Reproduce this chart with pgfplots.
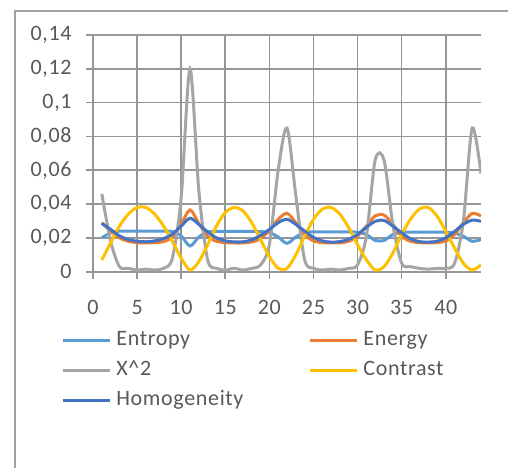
\documentclass[border=0pt]{standalone}
\usepackage{fontspec}
\setmainfont{Carlito}[LetterSpace=3]
\usepackage{pgfplots}
\usepackage{pgfplotstable}
\pgfplotsset{compat=1.18}
\definecolor{gridc}{HTML}{969696}
\definecolor{framec}{HTML}{A0A0A0}
\definecolor{lblc}{HTML}{595959}
\definecolor{cEnt}{HTML}{5B9BD5}
\definecolor{cEng}{HTML}{ED7D31}
\definecolor{cX}{HTML}{A5A5A5}
\definecolor{cCon}{HTML}{FFC000}
\definecolor{cHom}{HTML}{4472C4}
\pgfplotstableread{
x ent eng xx con hom
1 0.0200 0.0290 0.046 0.007 0.0285
2 0.0230 0.0240 0.018 0.017 0.0250
3 0.0240 0.0200 0.003 0.027 0.0212
4 0.0240 0.0180 0.002 0.034 0.0190
5 0.0240 0.0172 0.001 0.038 0.0180
6 0.0240 0.0170 0.0015 0.038 0.0177
7 0.0240 0.0172 0.001 0.034 0.0182
8 0.0240 0.0178 0.002 0.027 0.0196
9 0.0238 0.0205 0.008 0.018 0.0222
10 0.0212 0.0280 0.044 0.008 0.0270
11 0.0152 0.0365 0.120 0.001 0.0316
12 0.0205 0.0285 0.048 0.006 0.0280
13 0.0235 0.0210 0.007 0.016 0.0235
14 0.0238 0.0180 0.002 0.027 0.0200
15 0.0238 0.0172 0.001 0.035 0.0182
16 0.0238 0.0170 0.002 0.038 0.0176
17 0.0238 0.0170 0.001 0.036 0.0177
18 0.0238 0.0176 0.002 0.029 0.0188
19 0.0237 0.0195 0.004 0.019 0.0215
20 0.0232 0.0245 0.016 0.009 0.0250
21 0.0205 0.0310 0.060 0.002 0.0290
22 0.0168 0.0345 0.085 0.002 0.0310
23 0.0205 0.0290 0.045 0.010 0.0280
24 0.0233 0.0220 0.007 0.021 0.0240
25 0.0236 0.0182 0.002 0.031 0.0203
26 0.0236 0.0172 0.001 0.037 0.0182
27 0.0236 0.0170 0.0015 0.038 0.0175
28 0.0236 0.0171 0.001 0.034 0.0178
29 0.0236 0.0180 0.002 0.026 0.0192
30 0.0234 0.0210 0.004 0.016 0.0220
31 0.0220 0.0270 0.021 0.007 0.0262
32 0.0185 0.0330 0.066 0.001 0.0298
33 0.0185 0.0335 0.066 0.003 0.0303
34 0.0220 0.0280 0.028 0.011 0.0270
35 0.0233 0.0210 0.005 0.022 0.0230
36 0.0234 0.0180 0.003 0.031 0.0195
37 0.0234 0.0172 0.002 0.037 0.0178
38 0.0234 0.0170 0.0015 0.038 0.0175
39 0.0234 0.0172 0.002 0.033 0.0180
40 0.0234 0.0182 0.002 0.024 0.0200
41 0.0228 0.0220 0.005 0.014 0.0238
42 0.0210 0.0290 0.030 0.005 0.0280
43 0.0180 0.0345 0.085 0.001 0.0305
44 0.0190 0.0330 0.058 0.004 0.0298
}\datatable
\begin{document}
\begin{tikzpicture}
\useasboundingbox (0,0) rectangle (254pt,233.5pt);
\fill[white] (0,0) rectangle (254pt,233.5pt);
\draw[framec, line width=0.9pt] (7.5pt,-3pt) -- (7.5pt,228pt) -- (258pt,228pt);
\begin{axis}[
  scale only axis, width=194pt, height=118.35pt,
  at={(46.5pt,97.65pt)}, anchor=south west,
  xmin=0, xmax=44, ymin=0, ymax=0.14,
  xtick={0,5,...,40}, ytick={0,0.02,0.04,0.06,0.08,0.1,0.12,0.14},
  axis x line*=bottom, axis y line*=left,
  axis line style={gridc, line width=0.8pt},
  grid=major, major grid style={gridc, line width=0.8pt},
  tick align=outside, major tick length=3.5pt,
  tick style={gridc, line width=0.8pt},
  /pgf/number format/assume math mode=true,
  yticklabel style={/pgf/number format/.cd, fixed, use comma, precision=2, /tikz/.cd, anchor=east, inner sep=0pt, xshift=-7pt, font=\fontsize{11}{13}\selectfont, text=lblc},
  xticklabel style={anchor=north, inner sep=0pt, yshift=-10.5pt, font=\fontsize{11}{13}\selectfont, text=lblc},
  every axis plot/.append style={line width=1.5pt, smooth, no markers},
  legend columns=2,
  legend cell align=left,
  legend image code/.code={\draw[#1] (0pt,0pt) -- (23.5pt,0pt);},
  legend style={draw=none, fill=none, at={(rel axis cs:-0.0825,-0.247)}, anchor=north west,
    font=\fontsize{11}{13}\selectfont, text=lblc, inner sep=0pt, row sep=4.9pt,
    nodes={inner sep=0pt, text height=7.5pt, text depth=2.5pt},
    /tikz/every odd column/.append style={column sep=2.5pt},
    /tikz/every even column/.append style={column sep=32.5pt}},
]
\addplot[cEnt] table[x=x, y=ent] {\datatable};
\addlegendentry{Entropy}
\addplot[cEng] table[x=x, y=eng] {\datatable};
\addlegendentry{Energy}
\addplot[cX] table[x=x, y=xx] {\datatable};
\addlegendentry{X\textasciicircum{}2}
\addplot[cCon] table[x=x, y=con] {\datatable};
\addlegendentry{Contrast}
\addplot[cHom] table[x=x, y=hom] {\datatable};
\addlegendentry{Homogeneity}
\end{axis}
\end{tikzpicture}
\end{document}
